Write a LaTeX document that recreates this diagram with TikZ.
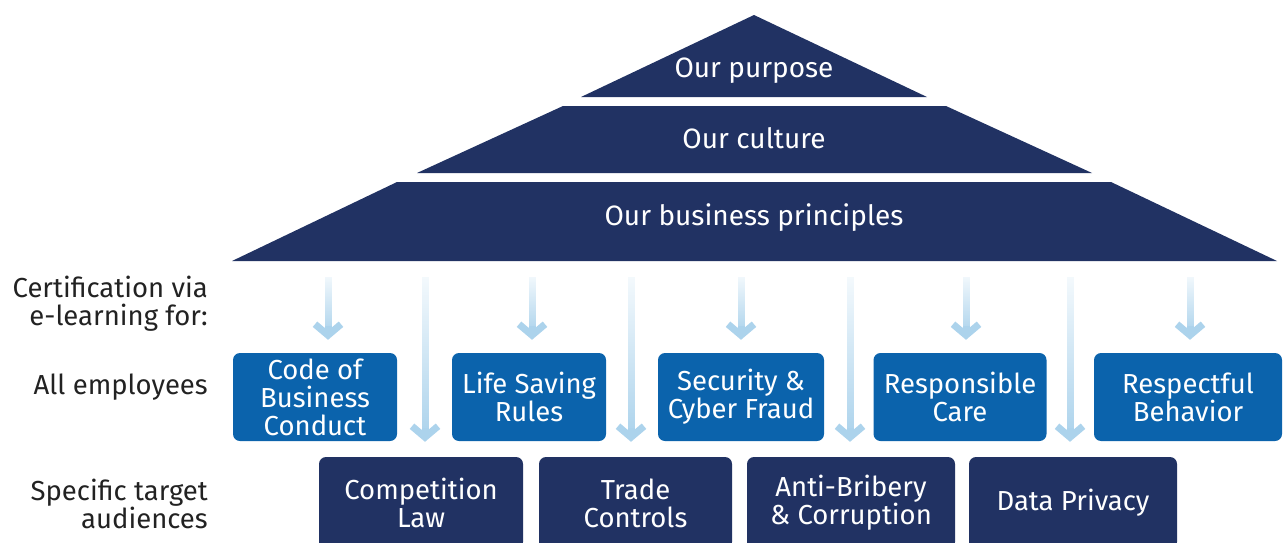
\documentclass[tikz,border=0pt]{standalone}
\usepackage{fontspec}
\setmainfont{Fira Sans}
\usetikzlibrary{arrows.meta,fadings}

\definecolor{navy}{HTML}{213263}
\definecolor{midblue}{HTML}{0B63AC}
\definecolor{paleblue}{HTML}{ACD3EC}
\definecolor{labelgray}{HTML}{222222}

\tikzfading[name=fadedown, top color=transparent!88, bottom color=transparent!0]

\tikzset{
  level/.style={fill=navy},
  levellabel/.style={text=white, font=\fontsize{28}{30}\selectfont},
  allbox/.style={fill=midblue, rounded corners=7pt, text=white, align=center,
    inner sep=0pt, minimum height=88pt, font=\fontsize{27.5}{28}\selectfont},
  targetbox/.style={fill=navy, rounded corners=7pt, text=white, align=center,
    inner sep=0pt, minimum height=92pt, font=\fontsize{27.5}{28}\selectfont},
  sidelabel/.style={text=labelgray, align=right, anchor=east, inner sep=0pt,
    font=\fontsize{27.5}{28}\selectfont},
  shaft/.style={draw=paleblue, line width=7pt, path fading=fadedown},
  barb/.style={draw=paleblue, line width=7pt,
    -{Straight Barb[length=11pt,width=26pt]}}
}

\begin{document}
\begin{tikzpicture}[x=1pt,y=-1pt]
		\useasboundingbox (0,0) rectangle (1284,543);
		\clip (0,0) rectangle (1284,543);
		%Pyramid
		\fill[level] (754,15)--(927,97)--(581,97)--cycle;
		\fill[level] (563,106)--(946,106)--(1092,173)--(417,173)--cycle;
		\fill[level] (397,182)--(1111,182)--(1277,261)--(232,261)--cycle;
		\node[levellabel] (purpose) at (754,71) {Our purpose};
		\node[levellabel] (culture) at (754,138) {Our culture};
		\node[levellabel] (principles) at (754,218) {Our business principles};
		\coordinate (rowtop) at (0,277);
		%Left labels
		\node[sidelabel] (cert) at (208,304) {Certification via\\e-learning for:};
		\node[sidelabel] (all) at (208,387) {All employees};
		\node[sidelabel] (spec) at (208,504) {Specific target\\audiences};
		%All employees
		\node[allbox, minimum width=164pt] (code) at (315,397) {Code of\\Business\\Conduct};
		\node[allbox, minimum width=154pt] (life) at (529,397) {Life Saving\\Rules};
		\node[allbox, minimum width=166pt] (secur) at (741,397) {Security \&\\Cyber Fraud};
		\node[allbox, minimum width=173pt] (care) at (960,397) {Responsible\\Care};
		\node[allbox, minimum width=188pt] (behav) at (1188,397) {Respectful\\Behavior};
		%Specific target audiences
		\node[targetbox, minimum width=204pt] (comp) at (421,503) {Competition\\Law};
		\node[targetbox, minimum width=193pt] (trade) at (635.5,503) {Trade\\Controls};
		\node[targetbox, minimum width=208pt] (brib) at (851,503) {Anti-Bribery\\\& Corruption};
		\node[targetbox, minimum width=208pt] (data) at (1073,503) {Data Privacy};
		%Arrows
		\foreach \n/\dx/\gap in {code/13/13,life/3/13,secur/0/13,care/6/13,behav/2/13,
				comp/4/15,trade/-4.5/15,brib/-1/15,data/-3/15}{
			\coordinate (tip) at ([xshift=\dx pt,yshift=\gap pt]\n.north);
			\draw[shaft] (tip |- rowtop) -- ([yshift=10pt]tip);
			\draw[barb] ([yshift=14pt]tip) -- (tip);
		}
\end{tikzpicture}
\end{document}
